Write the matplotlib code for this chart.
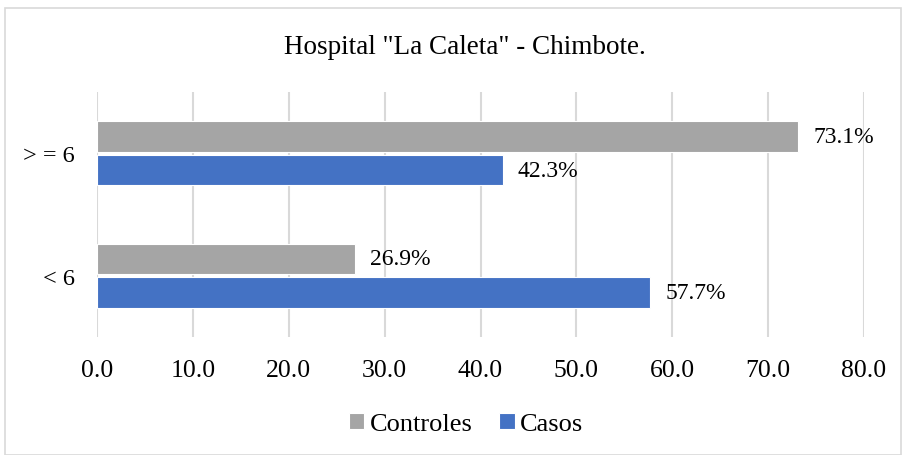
import numpy as np
from matplotlib import pyplot as plt
from matplotlib.patches import Rectangle

plt.rcParams['font.family'] = ['Liberation Serif', 'DejaVu Serif']

categories = ['< 6', '> = 6']
controles = [26.9, 73.1]
casos = [57.7, 42.3]
ticks = [0, 10, 20, 30, 40, 50, 60, 70, 80]

gray = '#A5A5A5'
blue = '#4472C4'

fig = plt.figure(figsize=(9.02, 4.56), dpi=100)
ax = fig.add_axes([97/902, 118/456, (864-97)/902, 245/456])

y = np.arange(len(categories))
h = 0.25
off = 0.138
b1 = ax.barh(y + off, controles, height=h, color=gray, edgecolor='white', linewidth=0.8, label='Controles', zorder=3)
b2 = ax.barh(y - off, casos, height=h, color=blue, edgecolor='white', linewidth=0.8, label='Casos', zorder=3)

for bars, vals in ((b1, controles), (b2, casos)):
    for r, v in zip(bars, vals):
        ax.annotate(f'{v:.1f}%', (v, r.get_y() + r.get_height()/2), xytext=(11, 0),
                    textcoords='offset points', ha='left', va='center', fontsize=17)

ax.set_xlim(0, 80)
ax.set_ylim(-0.5, 1.5)
ax.set_xticks(ticks)
ax.set_xticklabels([f'{t:.1f}' for t in ticks], fontsize=18.5)
ax.set_yticks(y)
ax.set_yticklabels(categories, fontsize=17.5)
ax.tick_params(axis='x', length=0, pad=16)
ax.tick_params(axis='y', length=0, pad=16)
ax.grid(axis='x', color='#D9D9D9', linewidth=1.5, zorder=0)
for s in ax.spines.values():
    s.set_visible(False)

fig.text(465/902, 1 - 48/456, 'Hospital "La Caleta" - Chimbote.', ha='center', va='center', fontsize=19.5)

fig.legend(handles=[b1, b2], labels=['Controles', 'Casos'], loc='center',
           bbox_to_anchor=(466/902, 1 - 425/456), ncol=2, frameon=False, fontsize=19,
           handlelength=0.6, handleheight=0.6, handletextpad=0.2, columnspacing=1.0)

fig.patches.append(Rectangle((5/902, 0), 896/902, 1 - 9/456, transform=fig.transFigure,
                             fill=False, edgecolor='#D9D9D9', linewidth=1.2))

fig.savefig('out.png', dpi=100)
